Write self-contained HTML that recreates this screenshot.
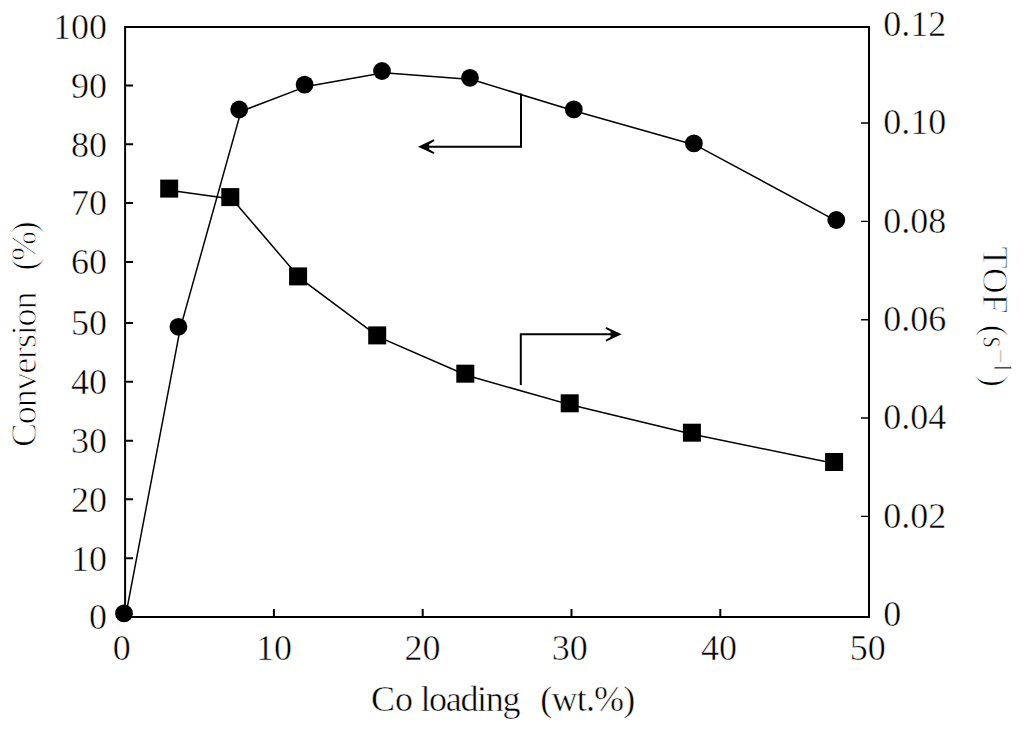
<!DOCTYPE html>
<html><head><meta charset="utf-8"><style>
html,body{margin:0;padding:0;background:#fff;width:1024px;height:730px;overflow:hidden}
svg{display:block}
text{font-family:"Liberation Serif",serif}
</style></head><body>
<svg width="1024" height="730" viewBox="0 0 1024 730">
<rect x="125.1" y="27" width="743.9" height="590" fill="none" stroke="#000" stroke-width="2"/>
<path d="M126.1 85.6h7 M126.1 144.3h7 M126.1 203h7 M126.1 262h7 M126.1 323h7 M126.1 381.7h7 M126.1 440.8h7 M126.1 499.2h7 M126.1 558.2h7 M273.9 616v-7 M422.7 616v-7 M571.5 616v-7 M720.3 616v-7" stroke="#000" stroke-width="2" fill="none"/>
<path d="M868 516.40h-7 M868 418.05h-7 M868 319.70h-7 M868 221.35h-7 M868 123.00h-7" stroke="#000" stroke-width="1.4" fill="none"/>
<polyline points="125.8,615.2 180.2,328.6 241.0,111.3 306.4,86.4 383.8,72.8 471.8,79.6 575.6,111.2 695.7,145.2 838.1,221.8" fill="none" stroke="#000" stroke-width="1.5"/>
<polyline points="171.0,190.4 232.1,198.9 299.9,278.2 379.0,337.2 467.1,375.5 571.5,405.1 693.7,434.5 835.9,463.8" fill="none" stroke="#000" stroke-width="1.5"/>
<circle cx="124" cy="613.4" r="8.9"/>
<circle cx="178.4" cy="326.8" r="8.9"/>
<circle cx="239.2" cy="109.5" r="8.9"/>
<circle cx="304.6" cy="84.6" r="8.9"/>
<circle cx="382" cy="71" r="8.9"/>
<circle cx="470" cy="77.8" r="8.9"/>
<circle cx="573.8" cy="109.4" r="8.9"/>
<circle cx="693.9" cy="143.4" r="8.9"/>
<circle cx="836.3" cy="220" r="8.9"/>
<rect x="160.20" y="179.60" width="18" height="18"/>
<rect x="221.30" y="188.10" width="18" height="18"/>
<rect x="289.10" y="267.40" width="18" height="18"/>
<rect x="368.20" y="326.40" width="18" height="18"/>
<rect x="456.30" y="364.70" width="18" height="18"/>
<rect x="560.70" y="394.30" width="18" height="18"/>
<rect x="682.90" y="423.70" width="18" height="18"/>
<rect x="825.10" y="453.00" width="18" height="18"/>
<path d="M521 93.4V146.7H428" fill="none" stroke="#000" stroke-width="2"/>
<path d="M418 146.7L433.8 139.3L434.4 140.9L429.2 144.2L429.2 149.2L434.4 152.5L433.8 154.1Z" fill="#000"/>
<path d="M520.8 385V334.3H612" fill="none" stroke="#000" stroke-width="2"/>
<path d="M621.6 334.3L606.2 327.1L605.6 328.7L610.6 331.6L610.6 337L605.6 339.9L606.2 341.5Z" fill="#000"/>
<g font-family="Liberation Serif" font-size="36" fill="#000" stroke="#fff" stroke-width="0.5"><text x="107" y="38.8" text-anchor="end">100</text><text x="107" y="97.9" text-anchor="end">90</text><text x="107" y="156.6" text-anchor="end">80</text><text x="107" y="215.3" text-anchor="end">70</text><text x="107" y="274.3" text-anchor="end">60</text><text x="107" y="335.3" text-anchor="end">50</text><text x="107" y="394.0" text-anchor="end">40</text><text x="107" y="453.1" text-anchor="end">30</text><text x="107" y="511.5" text-anchor="end">20</text><text x="107" y="570.5" text-anchor="end">10</text><text x="107" y="628.8" text-anchor="end">0</text><text x="883.3" y="626.0">0</text><text x="883.3" y="527.7">0.02</text><text x="883.3" y="429.4">0.04</text><text x="883.3" y="331.0">0.06</text><text x="883.3" y="232.7">0.08</text><text x="883.3" y="134.3">0.10</text><text x="883.3" y="36.0">0.12</text><text x="121.8" y="659.8" text-anchor="middle">0</text><text x="273.9" y="659.8" text-anchor="middle">10</text><text x="422.4" y="659.8" text-anchor="middle">20</text><text x="569.7" y="659.8" text-anchor="middle">30</text><text x="718.9" y="659.8" text-anchor="middle">40</text><text x="867.8" y="659.8" text-anchor="middle">50</text><text x="371" y="710.5">Co</text><text x="420.4" y="710.5" textLength="100" lengthAdjust="spacing">loading</text><text x="540.3" y="710.5" textLength="95" lengthAdjust="spacing">(wt.%)</text><g transform="translate(36,447) rotate(-90)" stroke-width="0.9"><text x="0" y="0" textLength="155.4" lengthAdjust="spacing">Conversion</text><text x="176.4" y="0" textLength="49.3" lengthAdjust="spacing">(%)</text></g><g transform="translate(983,247) rotate(90)" stroke-width="0.9"><text x="-0.5" y="0">TOF</text><text x="77.8" y="0">(</text><text x="89.4" y="0" textLength="11.4" lengthAdjust="spacingAndGlyphs">s</text><text x="101.4" y="-9.1" font-size="27">−</text><text x="113.7" y="-10.6" font-size="27">1</text><text x="128" y="0">)</text></g></g>
</svg>
</body></html>
